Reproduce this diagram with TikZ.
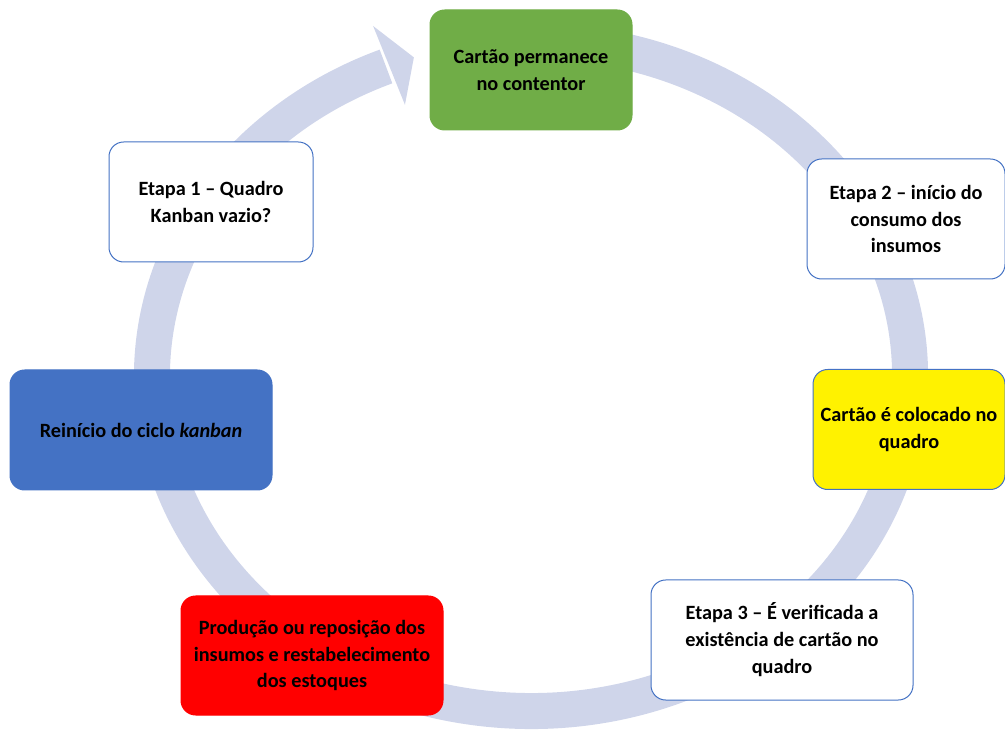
\documentclass[tikz,border=0pt]{standalone}
\usepackage{fontspec}
\setmainfont{Carlito}
\usepackage{tikz}
\definecolor{ringblue}{RGB}{207,213,234}
\definecolor{boxblue}{RGB}{68,114,196}
\definecolor{boxgreen}{RGB}{112,173,71}

\tikzset{
  etapa/.style={draw=boxblue, line width=0.75pt, rounded corners=11pt, align=center,
    minimum height=90pt, inner sep=0pt, text=black,
    font=\bfseries\fontsize{15.2}{20.2}\selectfont},
}

\begin{document}
\begin{tikzpicture}[x=0.75pt, y=0.75pt] % 1 unit = 1 pixel of the picture
  \useasboundingbox (0,0) rectangle (1005,731);

  % Radii of the ring (an ellipse) and its width
  \pgfmathsetmacro{\ra}{379}
  \pgfmathsetmacro{\rb}{335}
  \pgfmathsetmacro{\half}{42.5} % half width of the arrow head

  \coordinate (centro) at (531,355);

  % Draw the ring behind the boxes, clockwise, ending in the head
  \draw[ringblue, line width=27pt]
    ([shift={(80:{\ra} and {\rb})}]centro) arc[start angle=80, end angle=-247.5, x radius=\ra, y radius=\rb];
  \fill[ringblue, shift={(centro)}]
    (112:{\ra+\half} and {\rb+\half}) -- (108:{\ra} and {\rb}) -- (112:{\ra-\half} and {\rb-\half}) -- cycle;

  % Boxes
  \node[etapa, fill=boxgreen, draw=boxgreen, minimum width=151.5pt] (contentor) at (531,661)
    {Cartão permanece\\no contentor};
  \node[etapa, fill=white, minimum width=153pt] (etapa1) at (211,529)
    {Etapa 1 – Quadro\\Kanban vazio?};
  \node[etapa, fill=white, minimum width=148.5pt] (etapa2) at (906,512)
    {Etapa 2 – início do\\consumo dos\\insumos};
  \node[etapa, fill=yellow, minimum width=144pt] (colocado) at (909,301.5)
    {Cartão é colocado no\\quadro};
  \node[etapa, fill=white, minimum width=196.5pt] (etapa3) at (782,91)
    {Etapa 3 – É verificada a\\existência de cartão no\\quadro};
  \node[etapa, fill=red, draw=red, minimum width=196.5pt, minimum height=89.25pt] (producao) at (312,75.5)
    {Produção ou reposição dos\\insumos e restabelecimento\\dos estoques};
  \node[etapa, fill=boxblue, minimum width=196.5pt] (reinicio) at (141,301)
    {Reinício do ciclo \textit{kanban}};
\end{tikzpicture}
\end{document}
